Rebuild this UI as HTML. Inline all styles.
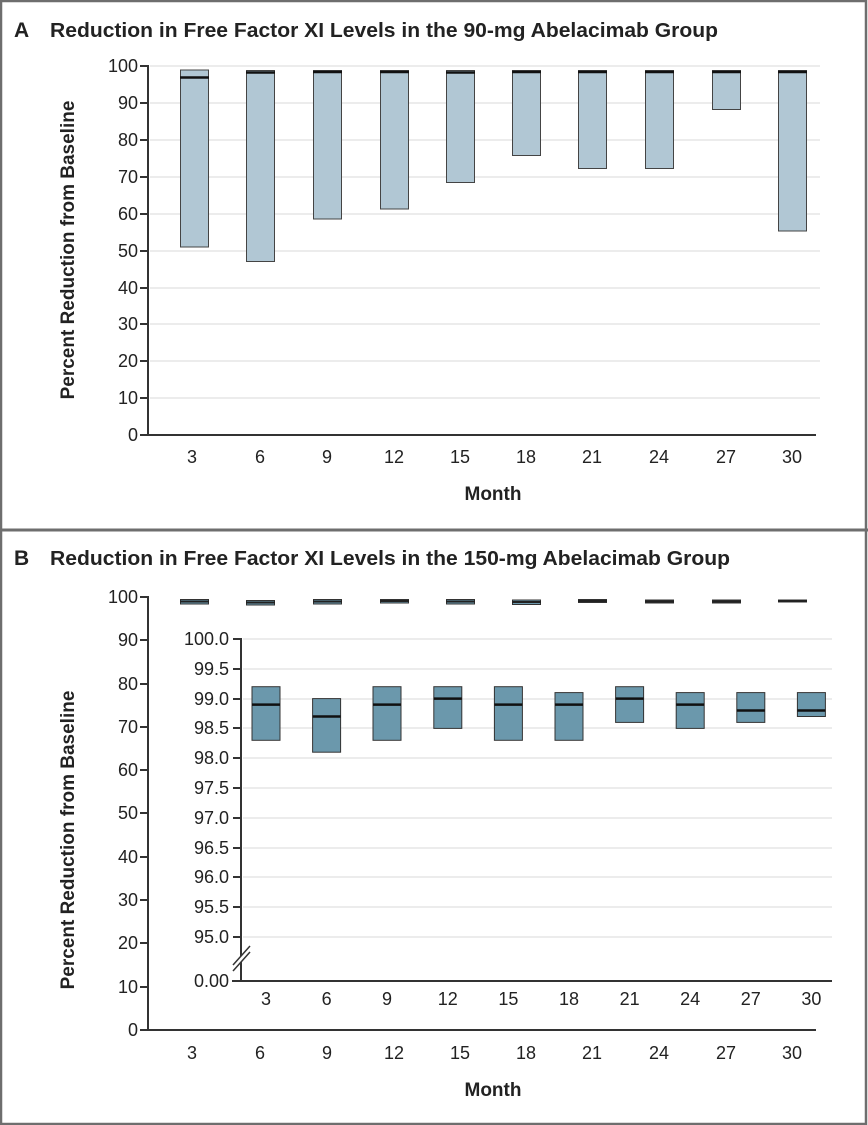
<!DOCTYPE html>
<html><head><meta charset="utf-8"><style>
html,body{margin:0;padding:0;background:#fff}
svg{display:block}
text{font-family:"Liberation Sans",sans-serif;fill:#222}
</style></head><body>
<svg width="868" height="1125" viewBox="0 0 868 1125" xmlns="http://www.w3.org/2000/svg">
<rect x="1" y="1" width="865" height="1123" fill="#fff" stroke="#6e6e6e" stroke-width="2.5"/>
<line x1="0" y1="530" x2="868" y2="530" stroke="#6e6e6e" stroke-width="3"/>

<!-- Panel A -->
<text x="14" y="37" font-size="21" font-weight="bold">A</text>
<text x="50" y="37" font-size="20" font-weight="bold" textLength="668" lengthAdjust="spacingAndGlyphs">Reduction in Free Factor XI Levels in the 90-mg Abelacimab Group</text>
<g stroke="#e6e6e6" stroke-width="1.5">
<line x1="150" x2="820" y1="66" y2="66"/><line x1="150" x2="820" y1="103" y2="103"/><line x1="150" x2="820" y1="140" y2="140"/><line x1="150" x2="820" y1="177" y2="177"/><line x1="150" x2="820" y1="214" y2="214"/><line x1="150" x2="820" y1="251" y2="251"/><line x1="150" x2="820" y1="288" y2="288"/><line x1="150" x2="820" y1="324" y2="324"/><line x1="150" x2="820" y1="361" y2="361"/><line x1="150" x2="820" y1="398" y2="398"/>
</g>
<g stroke="#333" stroke-width="2">
<line x1="148" y1="65" x2="148" y2="436"/>
<line x1="147" y1="435" x2="816" y2="435"/>
<line x1="140" x2="148" y1="66" y2="66"/><line x1="140" x2="148" y1="103" y2="103"/><line x1="140" x2="148" y1="140" y2="140"/><line x1="140" x2="148" y1="177" y2="177"/><line x1="140" x2="148" y1="214" y2="214"/><line x1="140" x2="148" y1="251" y2="251"/><line x1="140" x2="148" y1="288" y2="288"/><line x1="140" x2="148" y1="324" y2="324"/><line x1="140" x2="148" y1="361" y2="361"/><line x1="140" x2="148" y1="398" y2="398"/><line x1="140" x2="148" y1="435" y2="435"/>
</g>
<g font-size="18" text-anchor="end">
<text x="138" y="72">100</text><text x="138" y="109">90</text><text x="138" y="146">80</text><text x="138" y="183">70</text><text x="138" y="220">60</text><text x="138" y="257">50</text><text x="138" y="294">40</text><text x="138" y="330">30</text><text x="138" y="367">20</text><text x="138" y="404">10</text><text x="138" y="441">0</text>
</g>
<text transform="translate(74,250) rotate(-90)" font-size="19" font-weight="bold" text-anchor="middle">Percent Reduction from Baseline</text>
<g font-size="18" text-anchor="middle">
<text x="192" y="463">3</text><text x="260" y="463">6</text><text x="327" y="463">9</text><text x="394" y="463">12</text><text x="460" y="463">15</text><text x="526" y="463">18</text><text x="592" y="463">21</text><text x="659" y="463">24</text><text x="726" y="463">27</text><text x="792" y="463">30</text>
</g>
<text x="493" y="500" font-size="19" font-weight="bold" text-anchor="middle">Month</text>
<g fill="#b1c7d4" stroke="#444" stroke-width="1">
<rect x="180.5" y="70" width="28" height="177"/>
<rect x="246.5" y="70.5" width="28" height="191"/>
<rect x="313.5" y="70.5" width="28" height="148.5"/>
<rect x="380.5" y="70.5" width="28" height="138.5"/>
<rect x="446.5" y="70.5" width="28" height="112"/>
<rect x="512.5" y="70.5" width="28" height="85"/>
<rect x="578.5" y="70.5" width="28" height="98"/>
<rect x="645.5" y="70.5" width="28" height="98"/>
<rect x="712.5" y="70.5" width="28" height="39"/>
<rect x="778.5" y="70.5" width="28" height="160.5"/>
</g>
<g stroke="#111" stroke-width="2.5">
<line x1="180" x2="209" y1="77.5" y2="77.5"/>
<line x1="246" x2="275" y1="72.5" y2="72.5"/>
<line x1="313" x2="342" y1="72" y2="72"/>
<line x1="380" x2="409" y1="72" y2="72"/>
<line x1="446" x2="475" y1="72.5" y2="72.5"/>
<line x1="512" x2="541" y1="72" y2="72"/>
<line x1="578" x2="607" y1="72" y2="72"/>
<line x1="645" x2="674" y1="72" y2="72"/>
<line x1="712" x2="741" y1="72" y2="72"/>
<line x1="778" x2="807" y1="72" y2="72"/>
</g>

<!-- Panel B -->
<text x="14" y="565" font-size="21" font-weight="bold">B</text>
<text x="50" y="565" font-size="20" font-weight="bold" textLength="680" lengthAdjust="spacingAndGlyphs">Reduction in Free Factor XI Levels in the 150-mg Abelacimab Group</text>
<g stroke="#333" stroke-width="2">
<line x1="148" y1="596" x2="148" y2="1031"/>
<line x1="147" y1="1030" x2="816" y2="1030"/>
<line x1="140" x2="148" y1="597" y2="597"/><line x1="140" x2="148" y1="640" y2="640"/><line x1="140" x2="148" y1="684" y2="684"/><line x1="140" x2="148" y1="727" y2="727"/><line x1="140" x2="148" y1="770" y2="770"/><line x1="140" x2="148" y1="813" y2="813"/><line x1="140" x2="148" y1="857" y2="857"/><line x1="140" x2="148" y1="900" y2="900"/><line x1="140" x2="148" y1="943" y2="943"/><line x1="140" x2="148" y1="987" y2="987"/><line x1="140" x2="148" y1="1030" y2="1030"/>
</g>
<g font-size="18" text-anchor="end">
<text x="138" y="603">100</text><text x="138" y="646">90</text><text x="138" y="690">80</text><text x="138" y="733">70</text><text x="138" y="776">60</text><text x="138" y="819">50</text><text x="138" y="863">40</text><text x="138" y="906">30</text><text x="138" y="949">20</text><text x="138" y="993">10</text><text x="138" y="1036">0</text>
</g>
<text transform="translate(74,840) rotate(-90)" font-size="19" font-weight="bold" text-anchor="middle">Percent Reduction from Baseline</text>
<g font-size="18" text-anchor="middle">
<text x="192" y="1059">3</text><text x="260" y="1059">6</text><text x="327" y="1059">9</text><text x="394" y="1059">12</text><text x="460" y="1059">15</text><text x="526" y="1059">18</text><text x="592" y="1059">21</text><text x="659" y="1059">24</text><text x="726" y="1059">27</text><text x="792" y="1059">30</text>
</g>
<text x="493" y="1096" font-size="19" font-weight="bold" text-anchor="middle">Month</text>
<g fill="#6b98ac" stroke="#333" stroke-width="1">
<rect x="180.5" y="599.5" width="28" height="4.5"/>
<rect x="246.5" y="600.5" width="28" height="4.5"/>
<rect x="313.5" y="599.5" width="28" height="4.5"/>
<rect x="380.5" y="599.5" width="28" height="3.5"/>
<rect x="446.5" y="599.5" width="28" height="4.5"/>
<rect x="512.5" y="600" width="28" height="4.5"/>
<rect x="578.5" y="599.5" width="28" height="3"/>
<rect x="645.5" y="600" width="28" height="3"/>
<rect x="712.5" y="600" width="28" height="3"/>
<rect x="778.5" y="600" width="28" height="2"/>
</g>

<!-- inset -->
<g stroke="#e6e6e6" stroke-width="1.5">
<line x1="243" x2="832" y1="639" y2="639"/><line x1="243" x2="832" y1="669" y2="669"/><line x1="243" x2="832" y1="699" y2="699"/><line x1="243" x2="832" y1="728" y2="728"/><line x1="243" x2="832" y1="758" y2="758"/><line x1="243" x2="832" y1="788" y2="788"/><line x1="243" x2="832" y1="818" y2="818"/><line x1="243" x2="832" y1="848" y2="848"/><line x1="243" x2="832" y1="877" y2="877"/><line x1="243" x2="832" y1="907" y2="907"/><line x1="243" x2="832" y1="937" y2="937"/>
</g>
<g stroke="#333" stroke-width="2">
<line x1="241" y1="638" x2="241" y2="982"/>
<line x1="232" y1="981" x2="832" y2="981"/>
<line x1="233" x2="241" y1="639" y2="639"/><line x1="233" x2="241" y1="669" y2="669"/><line x1="233" x2="241" y1="699" y2="699"/><line x1="233" x2="241" y1="728" y2="728"/><line x1="233" x2="241" y1="758" y2="758"/><line x1="233" x2="241" y1="788" y2="788"/><line x1="233" x2="241" y1="818" y2="818"/><line x1="233" x2="241" y1="848" y2="848"/><line x1="233" x2="241" y1="877" y2="877"/><line x1="233" x2="241" y1="907" y2="907"/><line x1="233" x2="241" y1="937" y2="937"/>
</g>
<g stroke="#fff" stroke-width="5"><line x1="233" y1="968" x2="250" y2="949"/></g>
<g stroke="#333" stroke-width="1.5"><line x1="233" y1="965" x2="250" y2="946"/><line x1="233" y1="971" x2="250" y2="952"/></g>
<g font-size="18" text-anchor="end">
<text x="229" y="645">100.0</text><text x="229" y="675">99.5</text><text x="229" y="705">99.0</text><text x="229" y="734">98.5</text><text x="229" y="764">98.0</text><text x="229" y="794">97.5</text><text x="229" y="824">97.0</text><text x="229" y="854">96.5</text><text x="229" y="883">96.0</text><text x="229" y="913">95.5</text><text x="229" y="943">95.0</text><text x="229" y="987">0.00</text>
</g>
<g font-size="18" text-anchor="middle">
<text x="266" y="1005">3</text><text x="326.6" y="1005">6</text><text x="387" y="1005">9</text><text x="447.8" y="1005">12</text><text x="508.4" y="1005">15</text><text x="569" y="1005">18</text><text x="629.6" y="1005">21</text><text x="690.2" y="1005">24</text><text x="750.8" y="1005">27</text><text x="811.4" y="1005">30</text>
</g>
<g fill="#6b98ac" stroke="#333" stroke-width="1">
<rect x="252" y="686.7" width="28" height="53.6"/>
<rect x="312.6" y="698.6" width="28" height="53.6"/>
<rect x="373" y="686.7" width="28" height="53.6"/>
<rect x="433.8" y="686.7" width="28" height="41.7"/>
<rect x="494.4" y="686.7" width="28" height="53.6"/>
<rect x="555" y="692.6" width="28" height="47.7"/>
<rect x="615.6" y="686.7" width="28" height="35.7"/>
<rect x="676.2" y="692.6" width="28" height="35.8"/>
<rect x="736.8" y="692.6" width="28" height="29.8"/>
<rect x="797.4" y="692.6" width="28" height="23.9"/>
</g>
<g stroke="#111" stroke-width="2.5">
<line x1="252" x2="280" y1="704.6" y2="704.6"/>
<line x1="312.6" x2="340.6" y1="716.5" y2="716.5"/>
<line x1="373" x2="401" y1="704.6" y2="704.6"/>
<line x1="433.8" x2="461.8" y1="698.6" y2="698.6"/>
<line x1="494.4" x2="522.4" y1="704.6" y2="704.6"/>
<line x1="555" x2="583" y1="704.6" y2="704.6"/>
<line x1="615.6" x2="643.6" y1="698.6" y2="698.6"/>
<line x1="676.2" x2="704.2" y1="704.6" y2="704.6"/>
<line x1="736.8" x2="764.8" y1="710.5" y2="710.5"/>
<line x1="797.4" x2="825.4" y1="710.5" y2="710.5"/>
</g>
<g stroke="#222" stroke-width="2">
<line x1="180" x2="209" y1="601.5" y2="601.5"/>
<line x1="246" x2="275" y1="602.5" y2="602.5"/>
<line x1="313" x2="342" y1="601.5" y2="601.5"/>
<line x1="380" x2="409" y1="601" y2="601"/>
<line x1="446" x2="475" y1="601.5" y2="601.5"/>
<line x1="512" x2="541" y1="602" y2="602"/>
<line x1="578" x2="607" y1="601" y2="601"/>
<line x1="645" x2="674" y1="601.5" y2="601.5"/>
<line x1="712" x2="741" y1="601.5" y2="601.5"/>
<line x1="778" x2="807" y1="601" y2="601"/>
</g>
</svg>
</body></html>
